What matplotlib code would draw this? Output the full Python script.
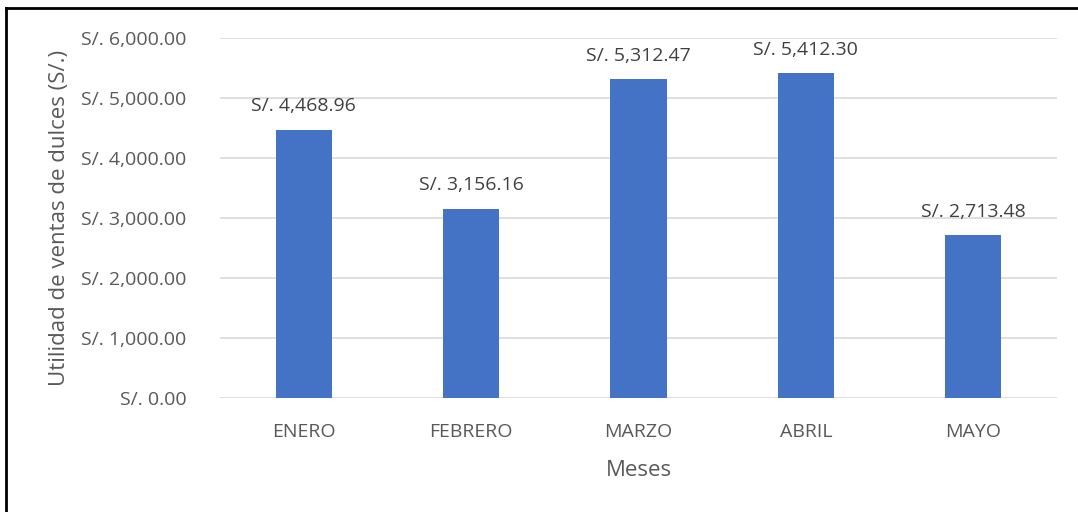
import matplotlib.pyplot as plt
from matplotlib.lines import Line2D
import numpy as np

meses = ["ENERO", "FEBRERO", "MARZO", "ABRIL", "MAYO"]
utilidad = [4468.96, 3156.16, 5312.47, 5412.30, 2713.48]
yticks = [0, 1000, 2000, 3000, 4000, 5000, 6000]

plt.rcParams['font.family'] = ['Open Sans', 'DejaVu Sans']
gris = "#595959"

fig = plt.figure(figsize=(10.78, 5.12), dpi=100)
ax = fig.add_axes([220/1078, 1 - 398/512, (1057 - 220)/1078, (398 - 38)/512])

x = np.arange(len(meses))
ax.bar(x, utilidad, width=0.335, color="#4472C4", zorder=3)

for xi, v in zip(x, utilidad):
    ax.text(xi, v + 240, "S/. {:,.2f}".format(v), ha="center", va="bottom",
            fontsize=14, color="#404040")

ax.set_xlim(-0.5, len(meses) - 0.5)
ax.set_ylim(0, 6000)
ax.set_yticks(yticks)
ax.set_yticklabels(["S/. {:,.2f}".format(t) for t in yticks])
ax.set_xticks(x)
ax.set_xticklabels(meses)
ax.tick_params(length=0, labelsize=14, colors=gris)
ax.tick_params(axis="x", pad=18)
ax.tick_params(axis="y", pad=24)
ax.grid(axis="y", color="#D9D9D9", linewidth=1.2, zorder=0)
for s in ax.spines.values():
    s.set_visible(False)

ax.set_xlabel("Meses", fontsize=16, color=gris, labelpad=14)
ax.set_ylabel("Utilidad de ventas de dulces (S/.)", fontsize=16, color=gris, labelpad=8)

# marco del grafico
fig.add_artist(Line2D([6/1078, 1], [1 - 8/512, 1 - 8/512], color="black", linewidth=2, transform=fig.transFigure))
fig.add_artist(Line2D([6/1078, 6/1078], [0, 1 - 8/512], color="black", linewidth=2, transform=fig.transFigure))

plt.savefig("out.png", dpi=100)
